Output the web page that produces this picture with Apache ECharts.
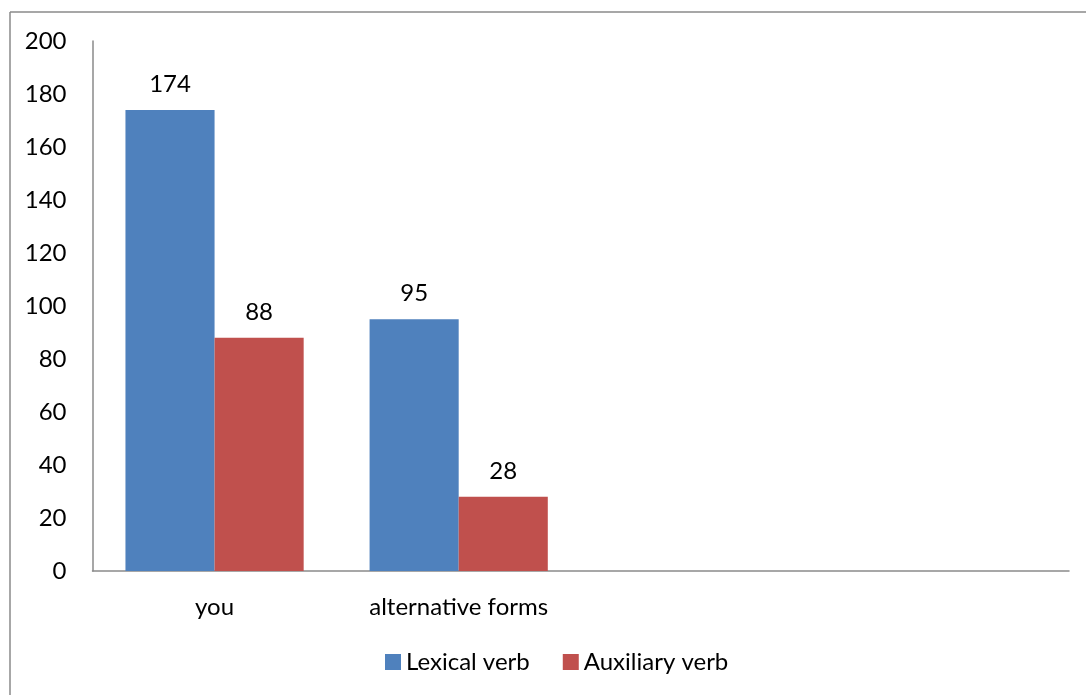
<!DOCTYPE html>
<html>
<head>
<meta charset="utf-8">
<script src="https://cdn.jsdelivr.net/npm/echarts@6/dist/echarts.min.js"></script>
<style>
  html, body { margin: 0; padding: 0; background: #fff; }
  #chart { width: 1086px; height: 695px; }
</style>
</head>
<body>
<div id="chart"></div>
<script>
// Verb counts per subject form
const categories = ['you', 'alternative forms', '', ''];
const lexicalVerb = [174, 95, null, null];
const auxiliaryVerb = [88, 28, null, null];
const seriesNames = ['Lexical verb', 'Auxiliary verb'];

const FONT = 'Lato, "Open Sans", sans-serif';
const FS = 24;

const chart = echarts.init(document.getElementById('chart'), null, { renderer: 'canvas' });

const labelStyle = {
  show: true,
  position: 'top',
  distance: 14,
  color: '#000',
  fontSize: FS,
  fontFamily: FONT
};

chart.setOption({
  animation: false,
  backgroundColor: '#fff',
  textStyle: { fontFamily: FONT },
  graphic: [
    // chart-area frame (top and left edges)
    { type: 'line', shape: { x1: 10, y1: 12, x2: 1086, y2: 12 }, style: { stroke: '#8a8a8a', lineWidth: 1.5 } },
    { type: 'line', shape: { x1: 10, y1: 12, x2: 10, y2: 695 }, style: { stroke: '#8a8a8a', lineWidth: 1.5 } }
  ],
  grid: { left: 92.5, right: 17, top: 41, bottom: 124, containLabel: false },
  legend: {
    data: seriesNames,
    left: 380,
    top: 645,
    icon: 'rect',
    itemWidth: 16,
    itemHeight: 16,
    itemGap: 33,
    textStyle: { fontSize: FS, color: '#000', fontFamily: FONT }
  },
  xAxis: {
    type: 'category',
    data: categories,
    axisLine: { show: true, lineStyle: { color: '#8a8a8a', width: 1.5 } },
    axisTick: { show: false },
    axisLabel: { color: '#000', fontSize: FS, fontFamily: FONT, margin: 24, interval: 0 },
    splitLine: { show: false }
  },
  yAxis: {
    type: 'value',
    min: 0,
    max: 200,
    interval: 20,
    axisLine: { show: true, lineStyle: { color: '#8a8a8a', width: 1.5 } },
    axisTick: { show: false },
    axisLabel: { color: '#000', fontSize: FS, fontFamily: FONT, margin: 26 },
    splitLine: { show: false }
  },
  series: [
    {
      name: seriesNames[0],
      type: 'bar',
      data: lexicalVerb,
      barGap: '0%',
      barCategoryGap: '27%',
      itemStyle: { color: '#4F81BD' },
      label: labelStyle
    },
    {
      name: seriesNames[1],
      type: 'bar',
      data: auxiliaryVerb,
      barGap: '0%',
      barCategoryGap: '27%',
      itemStyle: { color: '#C0504D' },
      label: labelStyle
    }
  ]
});
</script>
</body>
</html>
